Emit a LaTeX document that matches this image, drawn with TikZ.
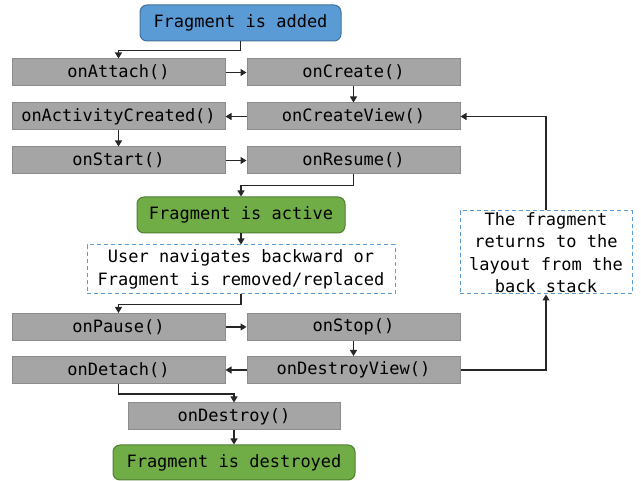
\documentclass[tikz,border=0pt]{standalone}
\usepackage{fontspec}
\setmonofont{DejaVu Sans Mono}
\usetikzlibrary{arrows.meta,calc}
\definecolor{gfill}{HTML}{A5A5A5}
\definecolor{gline}{HTML}{8C8C8C}
\definecolor{bfill}{HTML}{5B9BD5}
\definecolor{bline}{HTML}{41719C}
\definecolor{grfill}{HTML}{70AD47}
\definecolor{grline}{HTML}{507E32}
\definecolor{dline}{HTML}{5B9BD5}
\tikzset{
  every node/.style={font=\ttfamily\fontsize{17}{22.5}\selectfont, inner sep=0pt, text=black},
  method/.style={draw=gline, fill=gfill, line width=1pt, minimum width=213pt, minimum height=27pt},
  statebox/.style={rounded corners=7pt, line width=1pt, minimum height=36pt},
  bluestate/.style={statebox, draw=bline, fill=bfill},
  greenstate/.style={statebox, draw=grline, fill=grfill},
  notebox/.style={draw=dline, dash pattern=on 4pt off 3pt, line width=1pt, align=center},
  conn/.style={draw=black!85, line width=1.1pt, -{Triangle[width=7pt,length=6pt]}},
}
\begin{document}
\begin{tikzpicture}[x=1pt,y=-1pt]
\useasboundingbox (0,0) rectangle (641,481);
\node[bluestate, minimum width=201pt] (added) at (240.5,23) {Fragment is added};
\node[method] (attach) at (118.5,72.5) {onAttach()};
\node[method] (create) at (353.5,72.5) {onCreate()};
\node[method] (actcreated) at (118.5,116.5) {onActivityCreated()};
\node[method] (cview) at (353.5,116.5) {onCreateView()};
\node[method] (start) at (118.5,160.5) {onStart()};
\node[method] (resume) at (353.5,160.5) {onResume()};
\node[greenstate, minimum width=208pt] (active) at (241,215) {Fragment is active};
\node[notebox, minimum width=308pt, minimum height=49pt] (user) at (241,269.5) {User navigates backward or\\Fragment is removed/replaced};
\node[notebox, minimum width=172pt, minimum height=83pt] (returns) at (546,252.5) {The fragment\\returns to the\\layout from the\\back stack};
\node[method] (pause) at (118.5,327) {onPause()};
\node[method] (stop) at (353.5,327) {onStop()};
\node[method] (detach) at (118.5,370) {onDetach()};
\node[method] (dview) at (353.5,370) {onDestroyView()};
\node[method, minimum width=212pt] (destroy) at (234,416.5) {onDestroy()};
\node[greenstate, minimum width=242pt, minimum height=35pt] (destroyed) at (234,462.5) {Fragment is destroyed};

\draw[conn] (added.south) -- ++(0,9) -| (attach.north);
\draw[conn] (attach.east) -- (create.west);
\draw[conn] (create.south) -- (cview.north);
\draw[conn] (cview.west) -- (actcreated.east);
\draw[conn] (actcreated.south) -- (start.north);
\draw[conn] (start.east) -- (resume.west);
\draw[conn] (resume.south) -- ++(0,11) -| (active.north);
\draw[conn] (active.south) -- (user.north);
\draw[conn] (user.south) -- ++(0,10) -| (pause.north);
\draw[conn] (pause.east) -- (stop.west);
\draw[conn] (stop.south) -- (dview.north);
\draw[conn] (dview.west) -- (detach.east);
\draw[conn] (dview.east) -| (returns.south);
\draw[conn] (returns.north) |- (cview.east);
\draw[conn] (detach.south) -- ++(0,10) -| (destroy.north);
\draw[conn] (destroy.south) -- (destroyed.north);
\end{tikzpicture}
\end{document}
